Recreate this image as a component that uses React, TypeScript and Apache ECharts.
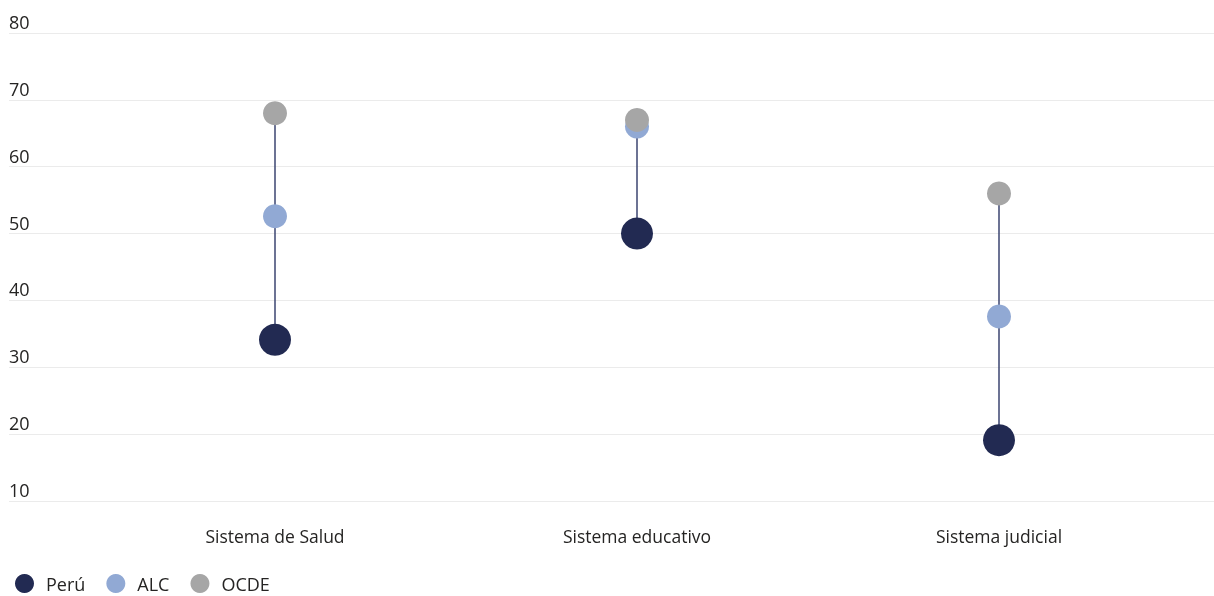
import React, { useEffect, useRef } from "react";
import * as echarts from "echarts";

const categories = ["Sistema de Salud", "Sistema educativo", "Sistema judicial"];
const peru = [34.1, 50.0, 19.1];
const alc = [52.6, 66.0, 37.6];
const ocde = [68.0, 67.0, 56.0];
const yTicks = { min: 10, max: 80, interval: 10 };

const FONT = "'Open Sans', 'Noto Sans', sans-serif";
const TEXT = "#252423";

export default function App() {
  const ref = useRef<HTMLDivElement>(null);
  useEffect(() => {
    if (!ref.current) return;
    const chart = echarts.init(ref.current, undefined, { renderer: "svg" });
    const ranges = categories.map((_, i) => {
      const vals = [peru[i], alc[i], ocde[i]];
      return [i, Math.min(...vals), Math.max(...vals)];
    });
    chart.setOption({
      animation: false,
      textStyle: { fontFamily: FONT },
      grid: [
        { left: 9, right: 0, top: 33, bottom: 95, containLabel: false },
        { left: 94, right: 34, top: 33, bottom: 95, containLabel: false },
      ],
      xAxis: [
        { type: "value", gridIndex: 0, min: 0, max: 1, show: false },
        {
          type: "category",
          gridIndex: 1,
          data: categories,
          axisLine: { show: false },
          axisTick: { show: false },
          axisLabel: { color: TEXT, fontSize: 17.5, margin: 26, fontFamily: FONT },
        },
      ],
      yAxis: [
        {
          type: "value",
          gridIndex: 0,
          min: yTicks.min,
          max: yTicks.max,
          interval: yTicks.interval,
          axisLine: { show: false },
          axisTick: { show: false },
          splitLine: { show: true, lineStyle: { color: "#ebebeb", width: 1 } },
          axisLabel: {
            inside: true,
            margin: 0,
            align: "left",
            verticalAlign: "bottom",
            padding: [0, 0, 2, 0],
            color: TEXT,
            fontSize: 18,
            fontFamily: FONT,
          },
        },
        {
          type: "value",
          gridIndex: 1,
          min: yTicks.min,
          max: yTicks.max,
          interval: yTicks.interval,
          show: false,
          splitLine: { show: false },
        },
      ],
      legend: {
        left: 15,
        top: 574,
        padding: 0,
        icon: "circle",
        itemWidth: 19,
        itemHeight: 19,
        itemGap: 21,
        textStyle: { color: TEXT, fontSize: 18, fontFamily: FONT, padding: [0, 0, 0, 7] },
        data: ["Perú", "ALC", "OCDE"],
      },
      series: [
        {
          type: "custom",
          xAxisIndex: 1,
          yAxisIndex: 1,
          z: 1,
          silent: true,
          data: ranges,
          encode: { x: 0, y: [1, 2] },
          renderItem: (params: any, api: any) => {
            const p1 = api.coord([api.value(0), api.value(1)]);
            const p2 = api.coord([api.value(0), api.value(2)]);
            return {
              type: "line",
              shape: { x1: p1[0], y1: p1[1], x2: p2[0], y2: p2[1] },
              style: { stroke: "#3b4470", lineWidth: 1.5 },
            };
          },
        },
        {
          name: "Perú",
          type: "scatter",
          xAxisIndex: 1,
          yAxisIndex: 1,
          z: 2,
          symbolSize: 32,
          itemStyle: { color: "#222a52", opacity: 1 },
          data: peru,
        },
        {
          name: "ALC",
          type: "scatter",
          xAxisIndex: 1,
          yAxisIndex: 1,
          z: 3,
          symbolSize: 24,
          itemStyle: { color: "#91a9d4", opacity: 1 },
          data: alc,
        },
        {
          name: "OCDE",
          type: "scatter",
          xAxisIndex: 1,
          yAxisIndex: 1,
          z: 4,
          symbolSize: 24,
          itemStyle: { color: "#a6a6a6", opacity: 1 },
          data: ocde,
        },
      ],
    });
    return () => chart.dispose();
  }, []);
  return (
    <div
      ref={ref}
      style={{ position: "fixed", left: 0, top: 0, width: 1214, height: 596 }}
    />
  );
}
